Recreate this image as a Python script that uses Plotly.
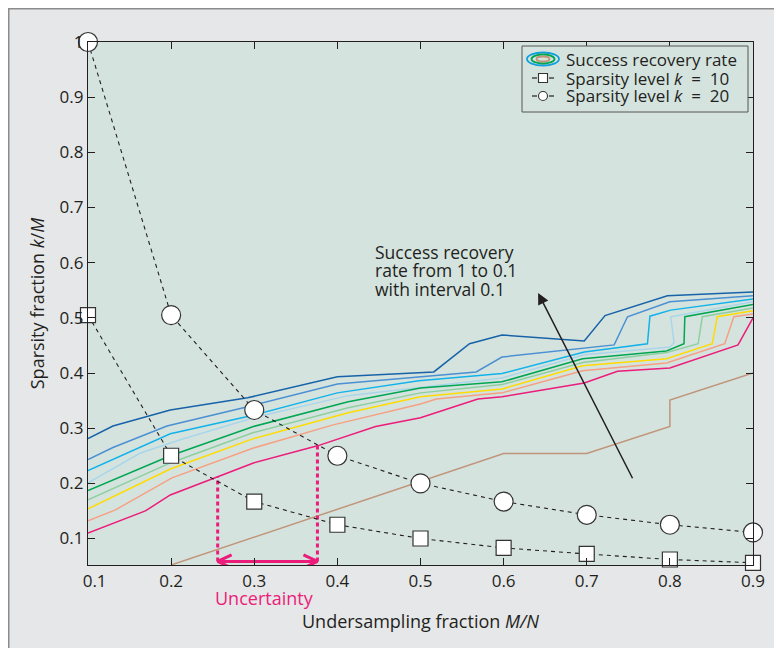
import plotly.graph_objects as go

# ---------------- data ----------------
undersampling = [0.1, 0.2, 0.3, 0.4, 0.5, 0.6, 0.7, 0.8, 0.9]
k10_fraction = [0.505, 0.25, 0.167, 0.125, 0.1, 0.083, 0.072, 0.062, 0.056]
k20_fraction = [1.0, 0.505, 0.333, 0.25, 0.2, 0.167, 0.143, 0.125, 0.111]

# contour lines of success recovery rate (1.0 -> 0.1)
c10_x = [0.1, 0.130, 0.199, 0.292, 0.4, 0.516, 0.559, 0.598, 0.697, 0.722, 0.797, 0.9]
c10_y = [0.281, 0.304, 0.333, 0.355, 0.393, 0.402, 0.453, 0.469, 0.458, 0.504, 0.540, 0.547]
c09_x = [0.1, 0.13, 0.195, 0.292, 0.4, 0.567, 0.598, 0.733, 0.749, 0.8, 0.9]
c09_y = [0.243, 0.265, 0.304, 0.339, 0.380, 0.402, 0.429, 0.451, 0.502, 0.529, 0.540]
c08_x = [0.1, 0.199, 0.292, 0.4, 0.498, 0.598, 0.697, 0.773, 0.776, 0.801, 0.9]
c08_y = [0.223, 0.290, 0.321, 0.364, 0.386, 0.399, 0.438, 0.453, 0.503, 0.514, 0.534]
c07_x = [0.1, 0.163, 0.211, 0.299, 0.413, 0.598, 0.697, 0.8, 0.805, 0.801, 0.9]
c07_y = [0.201, 0.255, 0.279, 0.319, 0.359, 0.391, 0.433, 0.447, 0.455, 0.502, 0.529]
c06_x = [0.1, 0.199, 0.299, 0.413, 0.5, 0.598, 0.695, 0.796, 0.817, 0.818, 0.9]
c06_y = [0.187, 0.250, 0.303, 0.348, 0.373, 0.384, 0.426, 0.440, 0.453, 0.502, 0.524]
c05_x = [0.1, 0.199, 0.299, 0.413, 0.5, 0.598, 0.695, 0.796, 0.834, 0.839, 0.9]
c05_y = [0.170, 0.237, 0.292, 0.337, 0.364, 0.379, 0.419, 0.437, 0.453, 0.502, 0.518]
c04_x = [0.1, 0.199, 0.299, 0.413, 0.5, 0.598, 0.695, 0.796, 0.851, 0.857, 0.9]
c04_y = [0.154, 0.226, 0.281, 0.328, 0.357, 0.371, 0.413, 0.426, 0.453, 0.502, 0.513]
c03_x = [0.1, 0.133, 0.201, 0.299, 0.395, 0.5, 0.519, 0.598, 0.695, 0.796, 0.866, 0.877, 0.9]
c03_y = [0.132, 0.152, 0.210, 0.264, 0.306, 0.344, 0.353, 0.364, 0.404, 0.418, 0.453, 0.502, 0.507]
c02_x = [0.1, 0.169, 0.199, 0.299, 0.376, 0.446, 0.5, 0.569, 0.598, 0.697, 0.737, 0.8, 0.882, 0.9]
c02_y = [0.110, 0.150, 0.179, 0.237, 0.268, 0.303, 0.319, 0.353, 0.357, 0.382, 0.403, 0.409, 0.451, 0.500]
c01_x = [0.2, 0.6, 0.7, 0.8, 0.8, 0.9]
c01_y = [0.052, 0.254, 0.254, 0.303, 0.351, 0.400]

x_ticks = [0.1, 0.2, 0.3, 0.4, 0.5, 0.6, 0.7, 0.8, 0.9]
x_tick_labels = ["&nbsp;&nbsp;&nbsp;0.1", "0.2", "0.3", "0.4", "0.5", "0.6", "0.7", "0.8", "0.9"]
y_ticks = [0.1, 0.2, 0.3, 0.4, 0.5, 0.6, 0.7, 0.8, 0.9, 1.0]
y_tick_labels = ["0.1", "0.2", "0.3", "0.4", "0.5", "0.6", "0.7", "0.8", "0.9", "1"]

# uncertainty interval (where the 0.2 contour meets the k curves)
uncert_x = [0.256, 0.376]
uncert_top = [0.212, 0.269]
uncert_level = 0.0585

note_lines = ["Success recovery", "rate from 1 to 0.1", "with interval 0.1"]
legend_labels = ["Success recovery rate",
                 "Sparsity level <i>k</i>&nbsp;&nbsp;=&nbsp;&nbsp;10",
                 "Sparsity level <i>k</i>&nbsp;&nbsp;=&nbsp;&nbsp;20"]

# ---------------- style ----------------
FONT = "Open Sans"
TXT = "#231f20"
MAGENTA = "#ec1c7a"
PLOT_BG = "#d5e3df"
PAPER_BG = "#e6e7e8"

contours = [
    (c10_x, c10_y, "#1763a8"),
    (c09_x, c09_y, "#4a90d2"),
    (c08_x, c08_y, "#12b2ea"),
    (c07_x, c07_y, "#a9d6ea"),
    (c06_x, c06_y, "#00a651"),
    (c05_x, c05_y, "#8ecf9e"),
    (c04_x, c04_y, "#ffdb00"),
    (c03_x, c03_y, "#f6a082"),
    (c02_x, c02_y, "#ec1c7a"),
    (c01_x, c01_y, "#c0957a"),
]

fig = go.Figure()

for cx, cy, col in contours:
    fig.add_trace(go.Scatter(x=cx, y=cy, mode="lines",
                             line=dict(color=col, width=1.5),
                             showlegend=False, hoverinfo="skip"))

# uncertainty dashed verticals
for ux, ut in zip(uncert_x, uncert_top):
    fig.add_trace(go.Scatter(x=[ux, ux], y=[uncert_level, ut], mode="lines",
                             line=dict(color=MAGENTA, width=3, dash="4px,3px"),
                             showlegend=False, hoverinfo="skip", cliponaxis=False))

# double-headed arrow
ch_dx = 0.0168
ch_dy = 0.012
arrow_x = [uncert_x[0] + ch_dx, uncert_x[0], uncert_x[0] + ch_dx, None,
           uncert_x[0], uncert_x[1], None,
           uncert_x[1] - ch_dx, uncert_x[1], uncert_x[1] - ch_dx]
arrow_y = [uncert_level + ch_dy, uncert_level, uncert_level - ch_dy, None,
           uncert_level, uncert_level, None,
           uncert_level + ch_dy, uncert_level, uncert_level - ch_dy]
fig.add_trace(go.Scatter(x=arrow_x, y=arrow_y, mode="lines",
                         line=dict(color=MAGENTA, width=3),
                         showlegend=False, hoverinfo="skip", cliponaxis=False))

# sparsity curves
fig.add_trace(go.Scatter(x=undersampling, y=k10_fraction, mode="lines+markers",
                         line=dict(color=TXT, width=1.1, dash="4px,4px"),
                         marker=dict(symbol="square", size=15, color="white",
                                     line=dict(color="#333333", width=1.2)),
                         showlegend=False, cliponaxis=False))
fig.add_trace(go.Scatter(x=undersampling, y=k20_fraction, mode="lines+markers",
                         line=dict(color=TXT, width=1.1, dash="4px,4px"),
                         marker=dict(symbol="circle", size=19, color="white",
                                     line=dict(color="#333333", width=1.2)),
                         showlegend=False, cliponaxis=False))

axis_common = dict(showline=True, linecolor=TXT, linewidth=1.2, mirror="ticks",
                   ticks="inside", ticklen=7, tickwidth=1.2, tickcolor=TXT,
                   showgrid=False, zeroline=False,
                   tickfont=dict(family=FONT, size=17, color=TXT))

# page has an 8px body margin: figure is 774x640, placed at (8, 8)
ML, MR, MT, MB = 80, 29, 34, 83
FW, FH = 774, 640
W, H = float(FW - ML - MR), float(FH - MT - MB)

fig.update_layout(
    width=FW, height=FH,
    margin=dict(l=ML, r=MR, t=MT, b=MB),
    paper_bgcolor=PAPER_BG, plot_bgcolor=PLOT_BG,
    font=dict(family=FONT, color=TXT),
    xaxis=dict(range=[0.1, 0.9], tickvals=x_ticks, ticktext=x_tick_labels,
               title=dict(text="Undersampling fraction <i>M/N</i>",
                          font=dict(family=FONT, size=18, color=TXT), standoff=24),
               **axis_common),
    yaxis=dict(range=[0.052, 1.0], tickvals=y_ticks, ticktext=y_tick_labels,
               title=dict(text="Sparsity fraction <i>k</i>/<i>M</i>",
                          font=dict(family=FONT, size=18, color=TXT), standoff=10),
               **axis_common),
)

annotations = []
for ny, line in zip([0.620, 0.587, 0.553], note_lines):
    annotations.append(dict(x=0.443, y=ny, xref="x", yref="y", xanchor="left",
                            yanchor="middle", align="left", showarrow=False,
                            text=line, font=dict(family=FONT, size=17.5, color=TXT)))
annotations += [
    dict(x=0.6415, y=0.545, xref="x", yref="y", ax=0.756, ay=0.2065,
         axref="x", ayref="y", text="", showarrow=True, arrowhead=2,
         arrowsize=1.5, arrowwidth=1.5, arrowcolor=TXT),
    dict(x=0.266, y=-0.063, xref="paper", yref="paper", showarrow=False,
         xanchor="center", yanchor="middle", text="Uncertainty",
         font=dict(family=FONT, size=18, color=MAGENTA)),
]

# manual legend
leg_text_x = (564 - 88) / W
rows = [(565 - 59) / H, (565 - 78) / H, (565 - 96) / H]
for ry, lab in zip(rows, legend_labels):
    annotations.append(dict(x=leg_text_x, y=ry, xref="paper", yref="paper",
                            xanchor="left", yanchor="middle", showarrow=False,
                            text=lab, font=dict(family=FONT, size=17, color=TXT)))

shapes = [
    dict(type="rect", xref="paper", yref="paper",
         x0=(522 - 88) / W, x1=(748 - 88) / W, y0=(565 - 112) / H, y1=(565 - 46) / H,
         line=dict(color="#555555", width=1), fillcolor=PLOT_BG, layer="above"),
    # frame of the figure (top and left edges)
    dict(type="line", xref="paper", yref="paper", x0=-ML / W, x1=(FW - ML) / W,
         y0=(H + MT) / H, y1=(H + MT) / H, line=dict(color="#8c8c8c", width=3)),
    dict(type="line", xref="paper", yref="paper", x0=-ML / W, x1=-ML / W,
         y0=(H + MT) / H, y1=-MB / H, line=dict(color="#8c8c8c", width=3)),
]
# contour icon
icx, icy = (543 - 88) / W, rows[0]
for (w, h, col) in [(32, 13, "#12a0dc"), (23, 9, "#00a651"), (13, 5, "#c0957a")]:
    shapes.append(dict(type="circle", xref="paper", yref="paper",
                       x0=icx - w / 2 / W, x1=icx + w / 2 / W,
                       y0=icy - h / 2 / H, y1=icy + h / 2 / H,
                       line=dict(color=col, width=1.8), layer="above"))
# marker icons
for ry, sym in [(rows[1], "rect"), (rows[2], "circle")]:
    cx = (543 - 88) / W
    for d0, d1 in [(-11, -6), (6, 11)]:
        shapes.append(dict(type="line", xref="paper", yref="paper",
                           x0=cx + d0 / W, x1=cx + d1 / W, y0=ry, y1=ry,
                           line=dict(color=TXT, width=1.2), layer="above"))
    s = 4.5
    shapes.append(dict(type=sym, xref="paper", yref="paper",
                       x0=cx - s / W, x1=cx + s / W, y0=ry - s / H, y1=ry + s / H,
                       line=dict(color="#333333", width=1.1), fillcolor="white",
                       layer="above"))

fig.update_layout(annotations=annotations, shapes=shapes)

fig.write_html("out.html")
